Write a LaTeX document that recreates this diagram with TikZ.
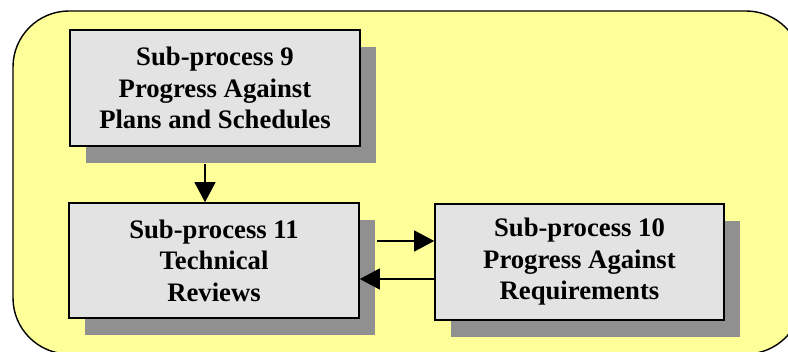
\documentclass[tikz,border=0pt]{standalone}
\usepackage{fontspec}
\setmainfont{Liberation Serif}
\usetikzlibrary{arrows.meta,shadows}
\definecolor{panelyellow}{HTML}{FFFF99}
\definecolor{boxgray}{HTML}{E3E3E3}
\definecolor{shadegray}{HTML}{909090}
\tikzset{
  procbox/.style={draw=black, line width=1.6pt, fill=boxgray,
    minimum width=290pt, minimum height=116pt, inner sep=0pt,
    align=center, font=\fontsize{26.7}{31.5}\selectfont\bfseries,
    drop shadow={shadow xshift=16pt, shadow yshift=-17pt, fill=shadegray, opacity=1}},
  flow/.style={line width=1.1pt, -{Triangle[length=20pt,width=21pt]}}
}
\begin{document}
\begin{tikzpicture}[x=1pt,y=-1pt]
  \useasboundingbox (0,0) rectangle (788,352);
  % yellow panel behind the process boxes
  \begin{scope}
    \clip (0,0) rectangle (788,352);
    \draw[line width=1.4pt, fill=panelyellow, rounded corners=56pt] (13,11) rectangle (802,354);
  \end{scope}

  \node[procbox] (sp9)  at (215,88)    {Sub-process 9\\Progress Against\\Plans and Schedules};
  \node[procbox, minimum height=115pt] (sp11) at (214,260.5) {Sub-process 11\\Technical\\Reviews};
  \node[procbox, minimum width=289pt] (sp10) at (579.5,262) {Sub-process 10\\Progress Against\\Requirements};

  \coordinate (down) at ([xshift=-10pt,yshift=-17pt]sp9.south);
  \draw[flow] (down) -- (down |- sp11.north);

  \coordinate (fwd) at ([yshift=21pt]sp10.west);
  \draw[flow] (fwd -| sp11.east) ++(17pt,0) -- (fwd);

  \coordinate (back) at ([yshift=-17pt]sp10.west);
  \draw[flow] (back) -- (back -| sp11.east);
\end{tikzpicture}
\end{document}
